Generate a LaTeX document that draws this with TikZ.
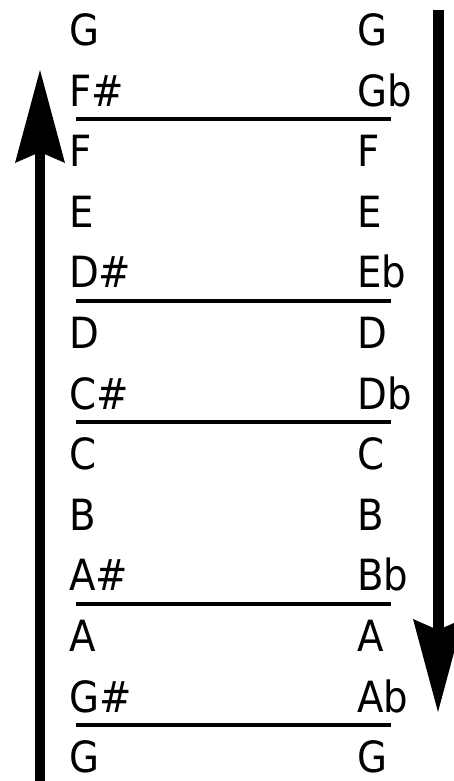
\documentclass[tikz,border=0pt]{standalone}
\usepackage{fontspec}
\setmainfont{DejaVu Sans Condensed}
\usetikzlibrary{arrows.meta}
\begin{document}
\begin{tikzpicture}[x=1pt,y=-1pt,>={Stealth[length=93pt,width=50pt,inset=11pt,line width=0pt]}, font=\fontsize{43}{50}\selectfont]
	\def\xl{69} \def\xr{357} % left and right columns
	\def\ytop{45.5} \def\dy{60.6} % first baseline, row step
	\useasboundingbox (0,0) rectangle (454,781);
	\foreach \i/\up/\down in {0/G/G,1/F\#/Gb,2/F/F,3/E/E,4/D\#/Eb,5/D/D,6/C\#/Db,7/C/C,8/B/B,9/A\#/Bb,10/A/A,11/G\#/Ab,12/G/G}{
		\node[anchor=base west,inner sep=0] (L\i) at (\xl,\ytop+\i*\dy) {\up};
		\node[anchor=base west,inner sep=0] (R\i) at (\xr,\ytop+\i*\dy) {\down};
	}
	\foreach \i in {1,4,6,9,11}
		\draw[line width=4pt] (L\i.base west) ++(7,13) -- ++(315,0);
	\draw[->,line width=10pt] (40,781) -- (40,70);
	\draw[->,line width=11pt] (438,10) -- (438,712);
\end{tikzpicture}
\end{document}
